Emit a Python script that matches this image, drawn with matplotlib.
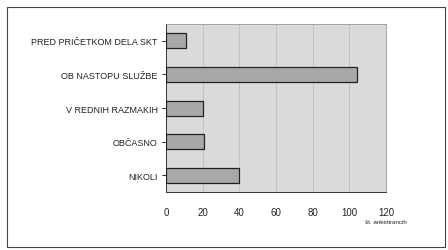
import matplotlib.pyplot as plt
from matplotlib.patches import Rectangle

categories = ["PRED PRIČETKOM DELA SKT", "OB NASTOPU SLUŽBE", "V REDNIH RAZMAKIH", "OBČASNO", "NIKOLI"]
values = [11, 104, 20, 21, 40]
xticks = [0, 20, 40, 60, 80, 100, 120]
xlabel = "št. anketirancih"

plt.rcParams['font.family'] = ['Liberation Sans', 'DejaVu Sans']

fig = plt.figure(figsize=(4.48, 2.51), dpi=100)
fig.patches.append(Rectangle((0.016, 0.012), 0.977, 0.958, transform=fig.transFigure,
                             fill=False, edgecolor="#444444", linewidth=0.8))

ax = fig.add_axes([0.3705, 0.231, 0.491, 0.669])
ax.set_facecolor("#dadada")
ypos = list(range(len(categories)))
ax.barh(ypos, values, height=0.45, color="#a8a8a8", edgecolor="#222222", linewidth=0.9, zorder=3)
ax.set_yticks(ypos)
ax.set_yticklabels(categories, fontsize=6.5, color="#222222")
ax.set_ylim(4.5, -0.5)
ax.set_xlim(0, 120)
ax.set_xticks(xticks)
ax.set_xticklabels([str(t) for t in xticks], fontsize=7, color="#222222")
ax.grid(axis="x", color="#c2c2c2", linewidth=0.7, zorder=0)
ax.tick_params(axis="y", length=3, width=0.6, pad=3)
ax.tick_params(axis="x", length=0, pad=11)
for s in ["top", "right"]:
    ax.spines[s].set_color("#999999")
    ax.spines[s].set_linewidth(0.6)
for s in ["left", "bottom"]:
    ax.spines[s].set_color("#333333")
    ax.spines[s].set_linewidth(0.7)
fig.text(0.908, 0.115, xlabel, fontsize=4.5, ha="right", va="center", color="#222222")

fig.savefig("out.png", dpi=100)
